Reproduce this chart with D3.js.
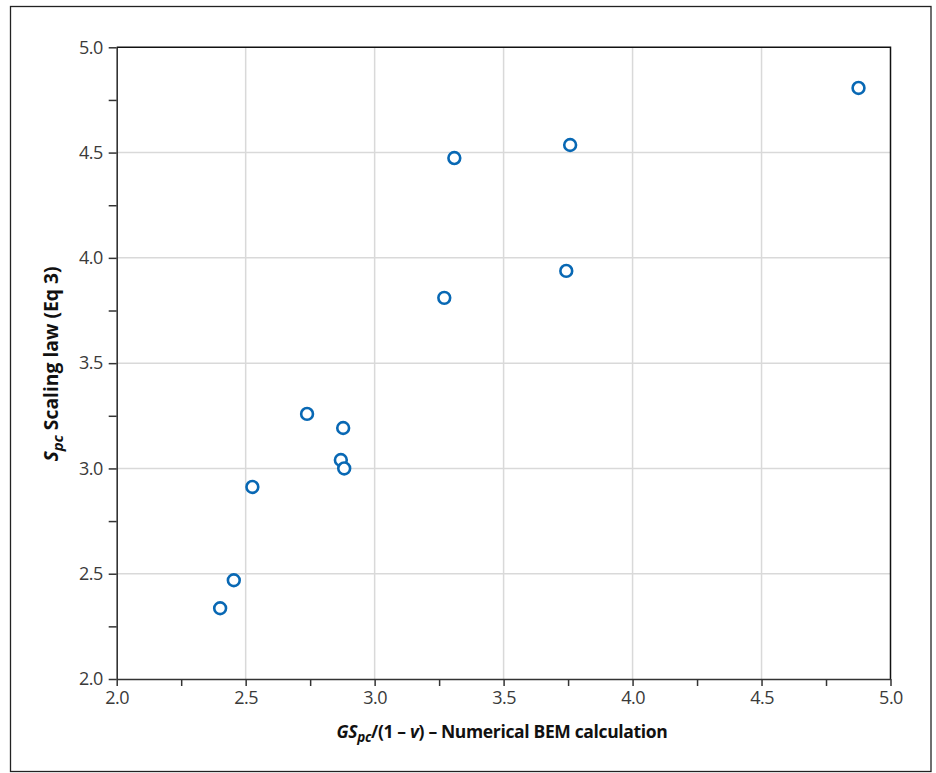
<!DOCTYPE html>
<html><head><meta charset="utf-8">
<script src="https://cdn.jsdelivr.net/npm/d3@7"></script>
<style>
html,body{margin:0;padding:0;background:#fff;}
svg{display:block;font-family:"Open Sans","Noto Sans",sans-serif;}
</style></head>
<body>
<svg id="chart" width="936" height="773"></svg>
<script>
const xValues = [4.876, 3.758, 3.309, 3.743, 3.270, 2.738, 2.878, 2.869, 2.882, 2.526, 2.454, 2.401];
const yValues = [4.807, 4.536, 4.474, 3.938, 3.810, 3.259, 3.192, 3.040, 3.000, 2.912, 2.469, 2.336];
const xTicks = [2.0, 2.5, 3.0, 3.5, 4.0, 4.5, 5.0];
const yTicks = [2.0, 2.5, 3.0, 3.5, 4.0, 4.5, 5.0];
const minorTicks = [2.25, 2.75, 3.25, 3.75, 4.25, 4.75];

const svg = d3.select("#chart");
const m = {left:116.7, right:890.5, top:47.3, bottom:679};
const x = d3.scaleLinear().domain([2,5]).range([m.left, m.right]);
const y = d3.scaleLinear().domain([2,5]).range([m.bottom, m.top]);

// outer border
svg.append("rect").attr("x",10.5).attr("y",6.5).attr("width",920.5).attr("height",765)
  .attr("fill","none").attr("stroke","#222").attr("stroke-width",1.3);

// grid
const g = svg.append("g");
g.selectAll(".vg").data(xTicks.slice(1,-1)).join("line")
  .attr("x1",d=>x(d)).attr("x2",d=>x(d)).attr("y1",m.top).attr("y2",m.bottom)
  .attr("stroke","#d9d9d9").attr("stroke-width",1.5);
g.selectAll(".hg").data(yTicks.slice(1,-1)).join("line")
  .attr("y1",d=>y(d)).attr("y2",d=>y(d)).attr("x1",m.left).attr("x2",m.right)
  .attr("stroke","#d9d9d9").attr("stroke-width",1.5);

// frame top/right
svg.append("path").attr("d",`M${m.left},${m.top}H${m.right}V${m.bottom}`)
  .attr("fill","none").attr("stroke","#111").attr("stroke-width",1.5);

// axes
const xAxis = d3.axisBottom(x).tickValues(xTicks.concat(minorTicks)).tickSize(7).tickSizeOuter(0)
  .tickFormat(d=> xTicks.includes(d) ? d3.format(".1f")(d) : "");
const gx = svg.append("g").attr("transform",`translate(0,${m.bottom})`).call(xAxis);
gx.attr("font-size",18).attr("font-family","'Open Sans',sans-serif");
gx.select(".domain").attr("stroke","#333").attr("stroke-width",1.6);
gx.selectAll(".tick line").attr("stroke","#333").attr("stroke-width",1.5);
gx.selectAll(".tick text").style("font-size","18px").attr("fill","#3a3a3a").attr("y",11).attr("dy","0.75em")
  .attr("letter-spacing",-0.5);

const yAxis = d3.axisLeft(y).tickValues(yTicks.concat(minorTicks)).tickSize(8).tickSizeOuter(0)
  .tickFormat(d=> yTicks.includes(d) ? d3.format(".1f")(d) : "");
const gy = svg.append("g").attr("transform",`translate(${m.left},0)`).call(yAxis);
gy.attr("font-size",18).attr("font-family","'Open Sans',sans-serif");
gy.select(".domain").attr("stroke","#333").attr("stroke-width",1.6);
gy.selectAll(".tick line").attr("stroke","#333").attr("stroke-width",1.5);
gy.selectAll(".tick text").style("font-size","18px").attr("fill","#3a3a3a").attr("x",-14)
  .attr("letter-spacing",-0.5);

// points
svg.append("g").selectAll("circle").data(xValues.map((v,i)=>[v,yValues[i]])).join("circle")
  .attr("cx",d=>x(d[0])).attr("cy",d=>y(d[1])).attr("r",5.9)
  .attr("fill","#fff").attr("stroke","#0868b4").attr("stroke-width",2.6);

// x title
const xt = svg.append("text").attr("x",502).attr("y",738).attr("text-anchor","middle")
  .attr("font-size",17.5).attr("letter-spacing",-0.35).attr("font-weight",700).attr("fill","#111");
xt.append("tspan").attr("font-style","italic").text("GS");
xt.append("tspan").attr("font-style","italic").attr("font-size",13.5).attr("dy",4).text("pc");
xt.append("tspan").attr("dy",-4).text("/(1 – ");
xt.append("tspan").attr("font-style","italic").text("v");
xt.append("tspan").text(") – Numerical BEM calculation");

// y title
const yt = svg.append("text").attr("transform","translate(58,364) rotate(-90)").attr("text-anchor","middle")
  .attr("font-size",19.3).attr("font-weight",700).attr("fill","#111");
yt.append("tspan").attr("font-style","italic").text("S");
yt.append("tspan").attr("font-style","italic").attr("font-size",15).attr("dy",5).text("pc");
yt.append("tspan").attr("dy",-5).text(" Scaling law (Eq 3)");
</script>
</body></html>
